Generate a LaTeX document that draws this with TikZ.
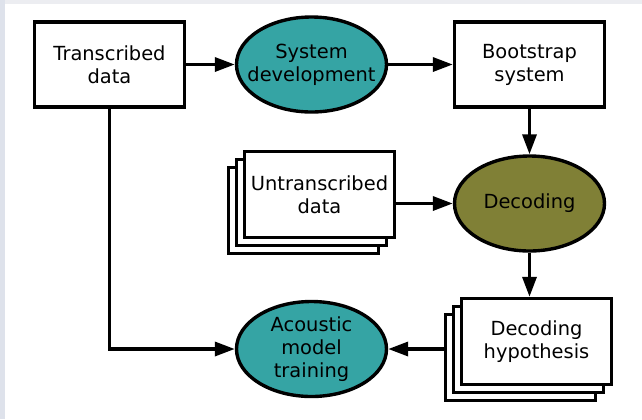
\documentclass[tikz,border=0pt]{standalone}
\usepackage{fontspec}
\setmainfont{DejaVu Sans}
\usetikzlibrary{shapes.geometric,arrows.meta,shadows}
\definecolor{tealfill}{RGB}{53,164,164}
\definecolor{olivefill}{RGB}{128,128,54}
\definecolor{bgstrip}{RGB}{222,226,235}
\definecolor{topstrip}{RGB}{236,237,241}
\begin{document}
\begin{tikzpicture}[x=1bp,y=-1bp,
  txt/.style={align=center,font=\fontsize{19.5}{23}\selectfont,inner sep=0pt},
  box/.style={txt,draw,line width=3.4bp,fill=white,minimum width=150bp,minimum height=85bp},
  oval/.style={ellipse,draw,line width=3.4bp,minimum width=150bp,minimum height=95bp,inner sep=0pt},
  stack/.style={minimum height=86bp,
    copy shadow={shadow xshift=-16bp,shadow yshift=-16bp,line width=3.4bp,fill=white,draw=black},
    copy shadow={shadow xshift=-8bp,shadow yshift=-8bp,line width=3.4bp,fill=white,draw=black}},
  arr/.style={line width=3.4bp,-{Triangle[length=20bp,width=14bp]}}]
\fill[white] (0,0) rectangle (642,419);
\fill[topstrip] (0,0) rectangle (642,4);
\fill[bgstrip] (0,0) rectangle (5,419);
\node[box] (td) at (109.5,64.5) {Transcribed\\data};
\node[oval,fill=tealfill] (sd) at (311.5,64.5) {};
\node[txt] (sdt) at (sd) {System\\development};
\node[box] (bs) at (529.5,64.5) {Bootstrap\\system};
\node[oval,fill=olivefill] (dec) at (529.5,203.5) {};
\node[txt] (dect) at (dec) {Decoding};
\node[box,stack] (ut) at (319.5,194.5) {Untranscribed\\data};
\node[box,stack] (dh) at (536.5,341.5) {Decoding\\hypothesis};
\node[oval,fill=tealfill] (amt) at (311.5,349) {};
\node[txt] (amtt) at (amt) {Acoustic\\model\\training};
\coordinate (dhl) at ([xshift=-16bp]dh.west);
\draw[arr] (td) -- (sd);
\draw[arr] (sd) -- (bs);
\draw[arr] (bs) -- (dec);
\draw[arr] (dec.west -| ut.east) -- (dec.west);
\draw[arr] (dec.south) -- (dec.south |- dh.north);
\draw[arr] (amt.east -| dhl) -- (amt.east);
\draw[arr] (td.south) |- (amt.west);
\pgfresetboundingbox
\path[use as bounding box] (0,0) rectangle (642,419);
\end{tikzpicture}
\end{document}
